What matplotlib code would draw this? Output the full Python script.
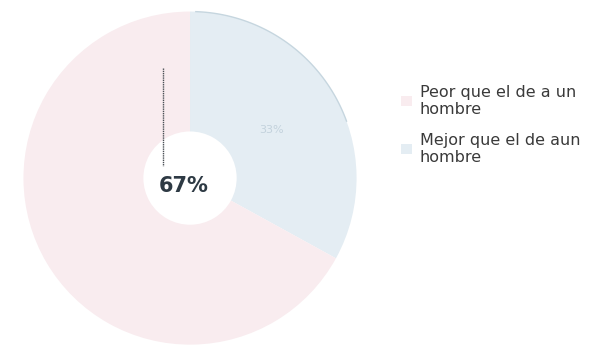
import numpy as np
import matplotlib.pyplot as plt

labels = ["Mejor que el de aun\nhombre", "Peor que el de a un\nhombre"]
values = [33, 67]
colors = ["#e4edf3", "#f9ecef"]

fig = plt.figure(figsize=(6.1, 3.53), dpi=100)
ax = fig.add_axes([0.033, 0.014, 0.557, 0.963])

wedges, _ = ax.pie(
    values,
    colors=colors,
    startangle=90,
    counterclock=False,
    radius=1.0,
    wedgeprops=dict(width=0.72, edgecolor="none"),
)
ax.set_aspect("equal")
ax.set_xlim(-1.02, 1.02)
ax.set_ylim(-1.02, 1.02)

# faint outer rim on the blue slice
theta = np.linspace(88, 20, 60)
ax.plot(np.cos(np.radians(theta)), np.sin(np.radians(theta)),
        color="#c6d6df", lw=1.0)

# leader line + big label of the pink slice
ax.plot([-0.16, -0.16], [0.66, 0.07], color="#4a4f55", lw=1.0, ls=(0, (1, 0.6)))
ax.text(-0.04, -0.05, f"{values[1]}%", ha="center", va="center",
        fontsize=15, fontweight="bold", color="#2e3a44")
ax.text(0.49, 0.29, f"{values[0]}%", ha="center", va="center",
        fontsize=8, color="#c3d2dc")

leg = fig.legend(
    [wedges[1], wedges[0]],
    [labels[1], labels[0]],
    loc="upper left",
    bbox_to_anchor=(0.633, 0.80),
    frameon=False,
    fontsize=11.5,
    handlelength=0.75,
    handleheight=0.55,
    handletextpad=0.45,
    labelspacing=1.0,
)
for t in leg.get_texts():
    t.set_color("#3a3a3a")
    t.set_linespacing(1.15)

fig.savefig("out.png", dpi=100)
